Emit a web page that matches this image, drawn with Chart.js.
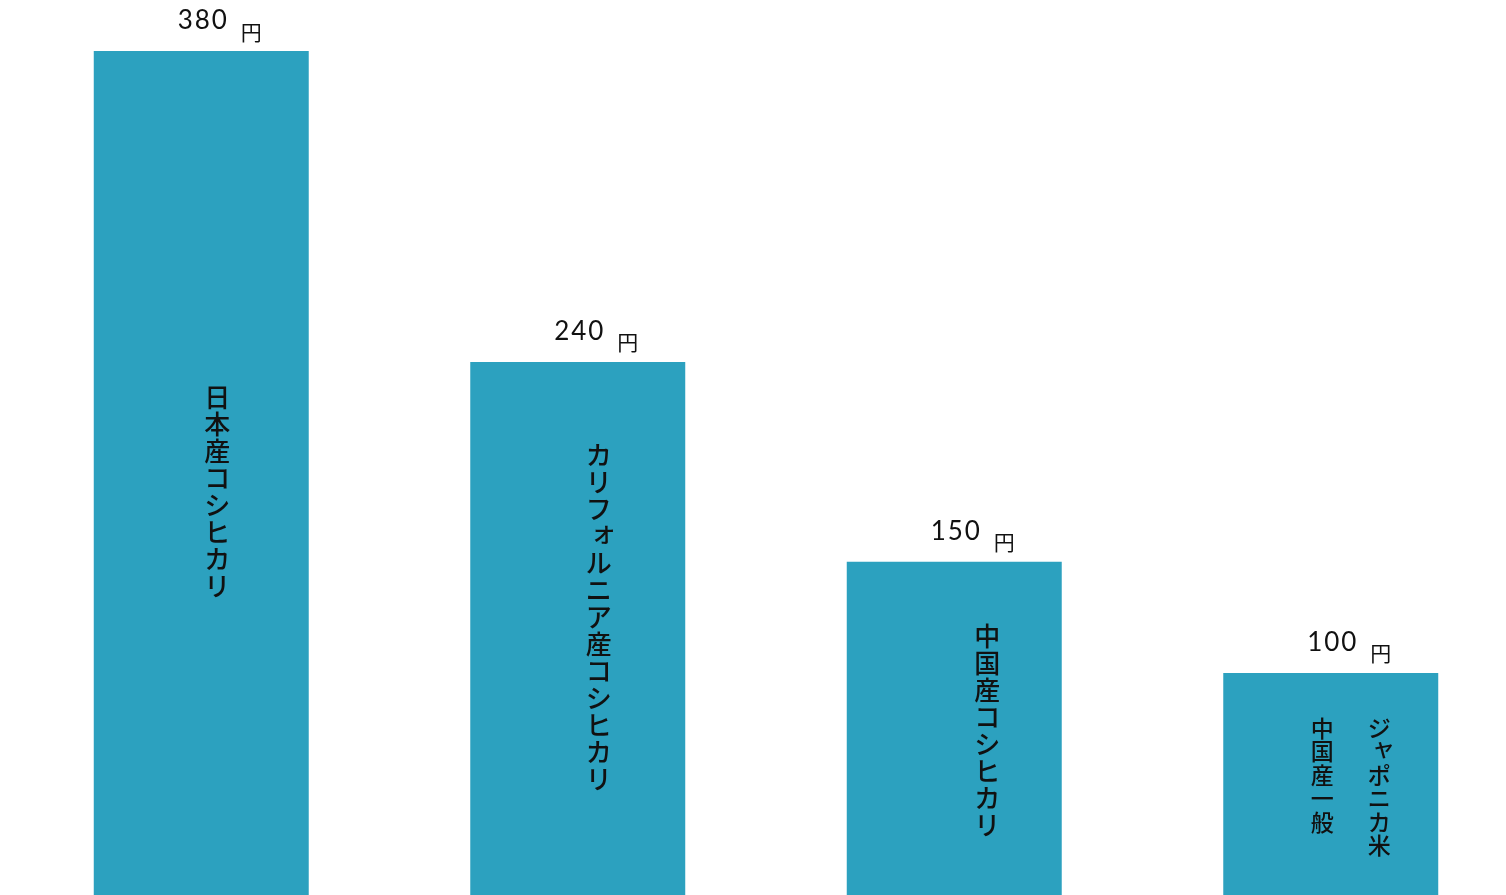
<!DOCTYPE html>
<html lang="ja">
<head>
<meta charset="utf-8">
<script src="https://cdn.jsdelivr.net/npm/chart.js@4"></script>
<style>
  html, body { margin: 0; padding: 0; background: #fff; overflow: hidden; }
  #wrap { position: absolute; left: 13px; top: 0; width: 1506px; height: 895px; }
</style>
</head>
<body>
<div id="wrap"><canvas id="riceChart"></canvas></div>
<script>
// 1kgあたりの価格（円）
const categories = ['日本産コシヒカリ', 'カリフォルニア産コシヒカリ', '中国産コシヒカリ', '中国産一般ジャポニカ米'];
const prices = [380, 240, 150, 100];
// 縦書きラベル（右の列から）
const labelColumns = [
  ['日本産コシヒカリ'],
  ['カリフォルニア産コシヒカリ'],
  ['中国産コシヒカリ'],
  ['ジャポニカ米', '中国産一般'],
];
const unit = '円';

const barColor = '#2ca1bf';
const jpFont = '"Noto Sans CJK JP", sans-serif';
const smallKana = 'ァィゥェォャュョッぁぃぅぇぉゃゅょっ';
// 縦書きラベルの位置ずらし（棒の中心から）
const labelShiftX = [16, 21, 33, 20];
const labelShiftY = [19, -11, 2, 3];

function drawVertical(ctx, text, x, yTop, size, step) {
  ctx.font = '500 ' + size + 'px ' + jpFont;
  ctx.textAlign = 'center';
  ctx.textBaseline = 'middle';
  [...text].forEach((ch, i) => {
    let dx = 0, dy = 0;
    if (smallKana.includes(ch)) { dx = size * 0.18; dy = -size * 0.18; }
    ctx.fillText(ch, x + dx, yTop + step * (i + 0.5) + dy);
  });
}

const labelPlugin = {
  id: 'labels',
  afterDatasetsDraw(chart) {
    const ctx = chart.ctx;
    const meta = chart.getDatasetMeta(0);
    const bottom = chart.chartArea.bottom;
    ctx.save();
    ctx.fillStyle = '#111';
    meta.data.forEach((bar, i) => {
      // 値ラベル
      ctx.font = '26px Lato, "Noto Sans", sans-serif';
      ctx.letterSpacing = '2px';
      ctx.textAlign = 'center';
      ctx.textBaseline = 'alphabetic';
      ctx.fillText(String(prices[i]), bar.x + 2, bar.y - 22);
      ctx.letterSpacing = '0px';
      ctx.font = '21px ' + jpFont;
      ctx.textBaseline = 'bottom';
      ctx.fillText(unit, bar.x + 50, bar.y - 9);

      // 縦書きカテゴリ
      const cols = labelColumns[i];
      const size = cols.length > 1 ? 23 : 26;
      const step = cols.length > 1 ? 23.5 : 27;
      const maxLen = Math.max(...cols.map(c => c.length));
      const h = step * maxLen;
      const yTop = (bar.y + bottom) / 2 - h / 2 + labelShiftY[i];
      const cx = bar.x + labelShiftX[i];
      if (cols.length === 1) {
        drawVertical(ctx, cols[0], cx, yTop, size, step);
      } else {
        drawVertical(ctx, cols[0], cx + 28.5, yTop, size, step);
        drawVertical(ctx, cols[1], cx - 28.5, yTop, size, step);
      }
    });
    ctx.restore();
  }
};

new Chart(document.getElementById('riceChart'), {
  type: 'bar',
  data: {
    labels: categories,
    datasets: [{
      data: prices,
      backgroundColor: barColor,
      borderWidth: 0,
      barPercentage: 0.571,
      categoryPercentage: 1.0,
    }]
  },
  options: {
    responsive: true,
    maintainAspectRatio: false,
    animation: false,
    layout: { padding: 0 },
    scales: {
      x: { display: false },
      y: { display: false, min: 0, max: 403 }
    },
    plugins: {
      legend: { display: false },
      tooltip: { enabled: false }
    }
  },
  plugins: [labelPlugin]
});
</script>
</body>
</html>
